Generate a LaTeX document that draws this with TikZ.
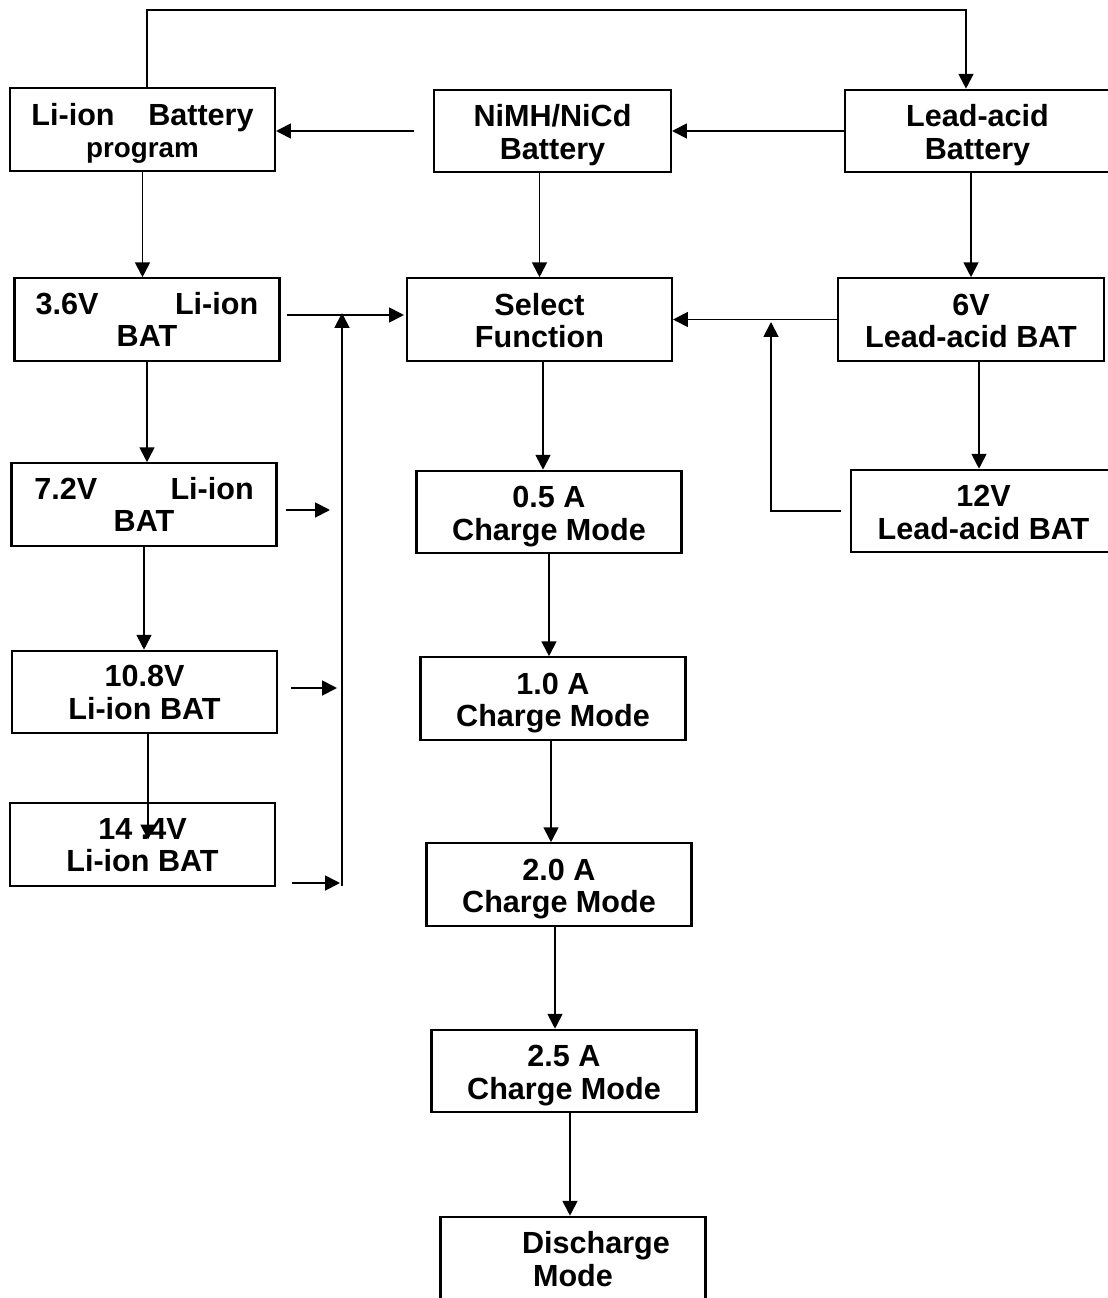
\documentclass[tikz,border=0pt]{standalone}
\usepackage{fontspec}
\setmainfont{Liberation Sans}
\usetikzlibrary{arrows.meta,calc}
\begin{document}
\begin{tikzpicture}[x=0.02cm, y=-0.02cm,
		box/.style={shape=rectangle, draw=black, line width=1.2pt, minimum width=5.3cm, minimum height=1.65cm, inner sep=0pt, align=center, font=\fontsize{17.4}{18.5}\selectfont\bfseries, text height=32.4pt, text depth=0pt},
		libox/.style={box, text height=31pt},
		link/.style={line width=1.1pt, -{Triangle[length=8.5pt,width=8.5pt]}}]
		\useasboundingbox (0,0) rectangle (1108,1298);
		\clip (0,0) rectangle (1108,1298);
		\node at (142.5,129.5) [box] (lbp) {Li-ion\hspace{1.1em}Battery\\{\fontsize{15.8}{17}\selectfont program}};
		\node at (552.5,131) [box, minimum width=4.74cm] (nimh) {NiMH/NiCd\\Battery};
		\node at (977.5,131) [box] (lead) {Lead-acid\\Battery};
		\node at (147,319.5) [libox] (li36) {3.6V\hspace{2.5em}Li-ion\\BAT};
		\node at (539.5,319.5) [box] (sel) {Select\\Function};
		\node at (971,319.5) [box, minimum width=5.32cm] (v6) {6V\\Lead-acid BAT};
		\node at (144,504.5) [libox] (li72) {7.2V\hspace{2.4em}Li-ion\\BAT};
		\node at (983.5,511) [box] (v12) {12V\\Lead-acid BAT};
		\node at (549,512) [box] (a05) {0.5 A\\Charge Mode};
		\node at (144.5,692) [libox] (li108) {10.8V\\Li-ion BAT};
		\node at (553,698.5) [box] (a10) {1.0 A\\Charge Mode};
		\node at (142.5,844.5) [libox] (li144) {14 .4V\\Li-ion BAT};
		\node at (559,884.5) [box] (a20) {2.0 A\\Charge Mode};
		\node at (564,1071) [box] (a25) {2.5 A\\Charge Mode};
		\node at (573,1258) [box] (dis) {\hspace{1.5em}Discharge\\Mode};
		\coordinate (tl) at (147,10);
		\coordinate (tr) at (966,10);
		\coordinate (bustop) at (342,313);
		\coordinate (busbot) at (342,886);
		\coordinate (b72) at (330,510);
		\coordinate (b108) at (337,688);
		\coordinate (b144) at (340,883);
		\coordinate (rtop) at (771,322);
		% top row
		\draw[link] (lbp.north -| tl) -- (tl) -- (tr) -- (tr |- lead.north);
		\draw[link] (lead.west) -- (lead.west -| nimh.east);
		\draw[link, shorten <=10.8pt] (nimh.west) -- (nimh.west -| lbp.east);
		\draw[link] (lbp.south) -- (lbp.south |- li36.north);
		\draw[link] (sel.north |- nimh.south) -- (sel.north);
		\draw[link] (v6.north |- lead.south) -- (v6.north);
		% Li-ion column and bus
		\draw[link] ($(li36.east)+(6,-4.5)$) -- ($(sel.west)+(-2,-4.5)$);
		\draw[link] (busbot) -- (bustop);
		\draw[link] ($(li72.east |- b72)+(8,0)$) -- (b72);
		\draw[link] ($(li108.east |- b108)+(13,0)$) -- (b108);
		\draw[link] ($(li144.east |- b144)+(16,0)$) -- (b144);
		\draw[link] (li36.south) -- (li36.south |- li72.north);
		\draw[link] (li72.south) -- (li72.south |- li108.north);
		\draw[link] ($(li108.south)+(3.5,0)$) -- ($(li108.south |- li144.center)+(3.5,-5)$);
		% lead-acid column
		\draw[link] (v6.west) -- (v6.west -| sel.east);
		\draw[link, shorten <=5pt] (v12.west) -| (rtop);
		\draw[link] ($(v6.south)+(8,0)$) -- ($(v6.south |- v12.north)+(8,0)$);
		% charge modes
		\draw[link] ($(sel.south)+(3.5,0)$) -- ($(sel.south |- a05.north)+(3.5,0)$);
		\draw[link] (a05.south) -- (a05.south |- a10.north);
		\draw[link] ($(a10.south)+(-2,0)$) -- ($(a10.south |- a20.north)+(-2,0)$);
		\draw[link] ($(a20.south)+(-4,0)$) -- ($(a20.south |- a25.north)+(-4,0)$);
		\draw[link] ($(a25.south)+(6,0)$) -- ($(a25.south |- dis.north)+(6,0)$);
\end{tikzpicture}
\end{document}
